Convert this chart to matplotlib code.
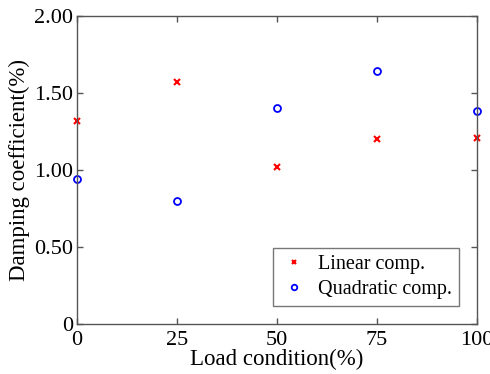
import numpy as np
import matplotlib
matplotlib.use("Agg")
import matplotlib.pyplot as plt

plt.rcParams['font.family'] = ['Liberation Serif', 'DejaVu Serif']

load = [0, 25, 50, 75, 100]
linear_comp = [1.32, 1.57, 1.02, 1.20, 1.21]
quadratic_comp = [0.94, 0.80, 1.40, 1.64, 1.38]
xticks = [0, 25, 50, 75, 100]
yticks = [0, 0.5, 1.0, 1.5, 2.0]
ytick_labels = ['0', '0.50', '1.00', '1.50', '2.00']

fig = plt.figure(figsize=(4.9, 3.74), dpi=100)
ax = fig.add_axes([77/490, 1 - 324/374, 400/490, 308/374])

ax.plot(load, linear_comp, 'x', color='red', markersize=4, markeredgewidth=1.5,
        label='Linear comp.', clip_on=False)
ax.plot(load, quadratic_comp, 'o', color='blue', markerfacecolor='none',
        markersize=5, markeredgewidth=1.3, label='Quadratic comp.', clip_on=False)

ax.set_xlim(0, 100)
ax.set_ylim(0, 2.0)
ax.set_xticks(xticks)
ax.set_xticklabels([str(v) for v in xticks])
ax.set_yticks(yticks)
ax.set_yticklabels(ytick_labels)
ax.tick_params(direction='in', length=4, width=1, color='#555555',
               labelsize=16, top=True, right=True)
ax.tick_params(axis='y', pad=3)
ax.tick_params(axis='x', pad=5)
for s in ax.spines.values():
    s.set_color('#555555')
    s.set_linewidth(1)

ax.set_xlabel('Load condition(%)', fontsize=16.5, labelpad=-1)
ax.set_ylabel('Damping coefficient(%)', fontsize=16.5, labelpad=3)

leg = ax.legend(loc='lower right', fontsize=14.5, fancybox=False, edgecolor='#555555',
                handletextpad=0.5, handlelength=1.4, borderpad=0.35, labelspacing=0.3,
                markerscale=0.8, borderaxespad=0, bbox_to_anchor=(0.955, 0.058))
leg.get_frame().set_linewidth(1)

fig.savefig('out.png', dpi=100)
